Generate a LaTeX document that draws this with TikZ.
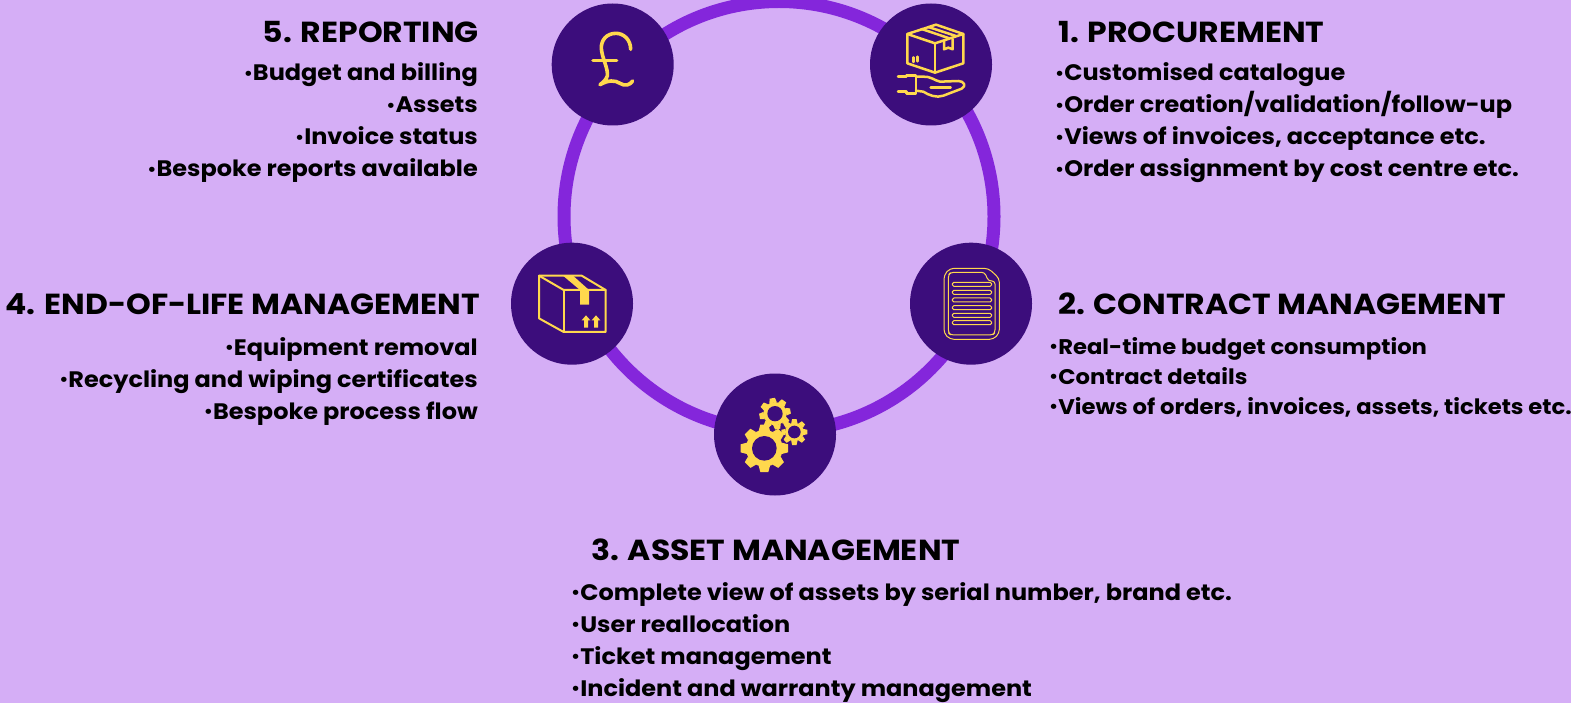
\documentclass[tikz,border=0pt]{standalone}
\usepackage{fontspec}
\setmainfont{Poppins}
\newfontfamily\headfont{Poppins}[FakeStretch=1.085]
\newfontfamily\itemfont{Poppins}[FakeStretch=1.07]
\definecolor{bgc}{HTML}{D5AEF6}
\definecolor{ringc}{HTML}{8426DB}
\definecolor{darkc}{HTML}{3C0D7C}
\definecolor{iconc}{HTML}{FFD84D}
\newcommand{\bul}{\raisebox{0.07em}{\fontsize{17}{17}\selectfont •}}
\tikzset{
  hub/.style={circle,fill=darkc,draw=none,minimum size=122pt,inner sep=0pt},
  ringline/.style={circle,draw=ringc,line width=13pt,minimum size=430pt,inner sep=0pt},
  headr/.style={anchor=base east,inner sep=0pt,font=\headfont\bfseries\fontsize{29}{29}\selectfont,text=black},
  headl/.style={anchor=base west,inner sep=0pt,font=\headfont\bfseries\fontsize{29}{29}\selectfont,text=black},
  itemr/.style={anchor=base east,inner sep=0pt,font=\itemfont\bfseries\fontsize{22.4}{22.4}\selectfont,text=black},
  iteml/.style={anchor=base west,inner sep=0pt,font=\itemfont\bfseries\fontsize{22.4}{22.4}\selectfont,text=black},
  itemsm/.style={anchor=base west,inner sep=0pt,font=\itemfont\bfseries\fontsize{21.2}{21.2}\selectfont,text=black},
  ic/.style={draw=iconc,line width=2.5pt,line join=round,line cap=round},
  icthin/.style={draw=iconc,line width=1pt,line join=round,rounded corners=1.5pt},
  icf/.style={fill=iconc,draw=none},
}
\newcommand{\gearshape}[6]{% x y outer body hole rotation
  \fill[iconc] (#1,#2) circle[radius=#4];
  \foreach \a in {0,45,...,315}{
    \fill[iconc,shift={(#1,#2)},rotate=\a+#6]
      (-0.24*#3,-0.95*#4) -- (-0.17*#3,-#3) -- (0.17*#3,-#3) -- (0.24*#3,-0.95*#4) -- cycle;
  }
  \fill[darkc] (#1,#2) circle[radius=#5];
}
\begin{document}
\begin{tikzpicture}[x=1pt,y=-1pt]
\useasboundingbox (0,0) rectangle (1571,703);
\fill[bgc] (0,0) rectangle (1571,703);
\begin{scope}
\clip (0,0) rectangle (1571,703);
\node[ringline] (ring) at (779,216.5) {};
\node[hub] (n5) at (612.7,64.5) {};
\node[hub] (n1) at (931,64.5) {};
\node[hub] (n2) at (971,303.7) {};
\node[hub] (n3) at (775,434.5) {};
\node[hub] (n4) at (572,303.7) {};
\end{scope}
% pound
\begin{scope}[shift={(540,0)},scale=1/3]
\draw[ic,line width=3.6pt] (272,148) .. controls (272,118) and (250,100) .. (228,100) .. controls (200,100) and (183,120) .. (184,145) .. controls (186,175) and (205,205) .. (202,228) .. controls (198,240) and (188,248) .. (180,254) .. controls (205,240) and (225,240) .. (240,250) .. controls (255,260) and (270,255) .. (278,243);
\draw[ic,line width=3.6pt] (159,181) -- (230,181);
\end{scope}
% box in hand
\begin{scope}[shift={(860,0)},scale=1/3]
\draw[ic] (142,102) -- (228,74) -- (310,102) -- (225,130) -- cycle;
\draw[ic] (142,102) -- (142,190) -- (225,218) -- (310,190) -- (310,102);
\draw[ic] (225,130) -- (225,218);
\draw[ic] (185,87) -- (268,115);
\draw[ic] (205,81) -- (288,108);
\draw[ic] (252,122) -- (252,148) -- (265,143) -- (278,148) -- (278,117);
\draw[ic] (160,172) -- (160,186);
\draw[ic] (173,170) -- (173,184);
\draw[ic] (114,230) -- (140,230) -- (140,226) -- (168,226) -- (168,281) -- (140,281) -- (140,275) -- (114,275);
\draw[ic] (168,230) -- (190,230) .. controls (210,228) and (225,242) .. (240,245) -- (295,243) .. controls (312,243) and (320,258) .. (305,266) -- (250,287) .. controls (230,295) and (205,285) .. (190,275) -- (168,272);
\draw[ic] (212,262) -- (272,262);
\end{scope}
% document
\begin{scope}[shift={(900,240)},scale=1/3]
\draw[icthin,rounded corners=4pt] (132,105) -- (132,280) -- (150,298) -- (280,298) -- (298,280) -- (298,115) -- (265,85) -- (150,85) -- cycle;
\draw[icthin,rounded corners=3pt] (145,105) -- (145,278) -- (152,285) -- (278,285) -- (285,278) -- (285,123) -- (265,123) -- (254,97) -- (152,97) -- cycle;
\foreach \yy in {133,157,180,203,226,248}{
  \draw[icthin] (157,\yy-6) rectangle (275,\yy+6);
}
\end{scope}
% gears
\begin{scope}[shift={(705,370)},scale=1/3]
\gearshape{210}{131}{47}{35}{23}{10}
\gearshape{268}{186}{39}{28}{19}{0}
\fill[darkc] (178,235) circle[radius=63];
\gearshape{178}{235}{71}{55}{37}{0}
\end{scope}
% box
\begin{scope}[shift={(505,240)},scale=1/3]
\fill[icf] (175,108) -- (205,108) -- (252,150) -- (252,194) -- (225,194) -- (225,150) -- cycle;
\draw[ic,line width=2pt] (102,107) -- (230,107) -- (302,150) -- (302,276) -- (176,276) -- (102,235) -- cycle;
\draw[ic,line width=2pt] (102,107) -- (176,150) -- (302,150);
\draw[ic,line width=2pt] (176,150) -- (176,276);
\fill[icf] (243,226) -- (256,241) -- (249,241) -- (249,263) -- (237,263) -- (237,241) -- (230,241) -- cycle;
\fill[icf] (273,226) -- (286,241) -- (279,241) -- (279,263) -- (267,263) -- (267,241) -- (260,241) -- cycle;
\end{scope}
% text
\node[headr] (h5) at (479,43) {5. REPORTING};
\node[itemr] (t51) at (478,81) {\bul Budget and billing};
\node[itemr] (t52) at (478,113) {\bul Assets};
\node[itemr] (t53) at (478,145) {\bul Invoice status};
\node[itemr] (t54) at (478,177) {\bul Bespoke reports available};
\node[headl] (h1) at (1058,43) {1. PROCUREMENT};
\node[iteml] (t11) at (1055,81) {\bul Customised catalogue};
\node[iteml] (t12) at (1055,113) {\bul Order creation/validation/follow-up};
\node[iteml] (t13) at (1055,145) {\bul Views of invoices, acceptance etc.};
\node[iteml] (t14) at (1055,177) {\bul Order assignment by cost centre etc.};
\node[headl] (h2) at (1058,314) {2. CONTRACT MANAGEMENT};
\node[itemsm] (t21) at (1049,354) {\bul Real-time budget consumption};
\node[itemsm] (t22) at (1049,384) {\bul Contract details};
\node[itemsm] (t23) at (1049,414) {\bul Views of orders, invoices, assets, tickets etc.};
\node[headr] (h4) at (480,314) {4. END-OF-LIFE MANAGEMENT};
\node[itemr] (t41) at (478,355) {\bul Equipment removal};
\node[itemr] (t42) at (478,387) {\bul Recycling and wiping certificates};
\node[itemr] (t43) at (478,419) {\bul Bespoke process flow};
\node[headl] (h3) at (591,560) {3. ASSET MANAGEMENT};
\node[iteml] (t31) at (571,600) {\bul Complete view of assets by serial number, brand etc.};
\node[iteml] (t32) at (571,632) {\bul User reallocation};
\node[iteml] (t33) at (571,664) {\bul Ticket management};
\node[iteml] (t34) at (571,696) {\bul Incident and warranty management};
\end{tikzpicture}
\end{document}
